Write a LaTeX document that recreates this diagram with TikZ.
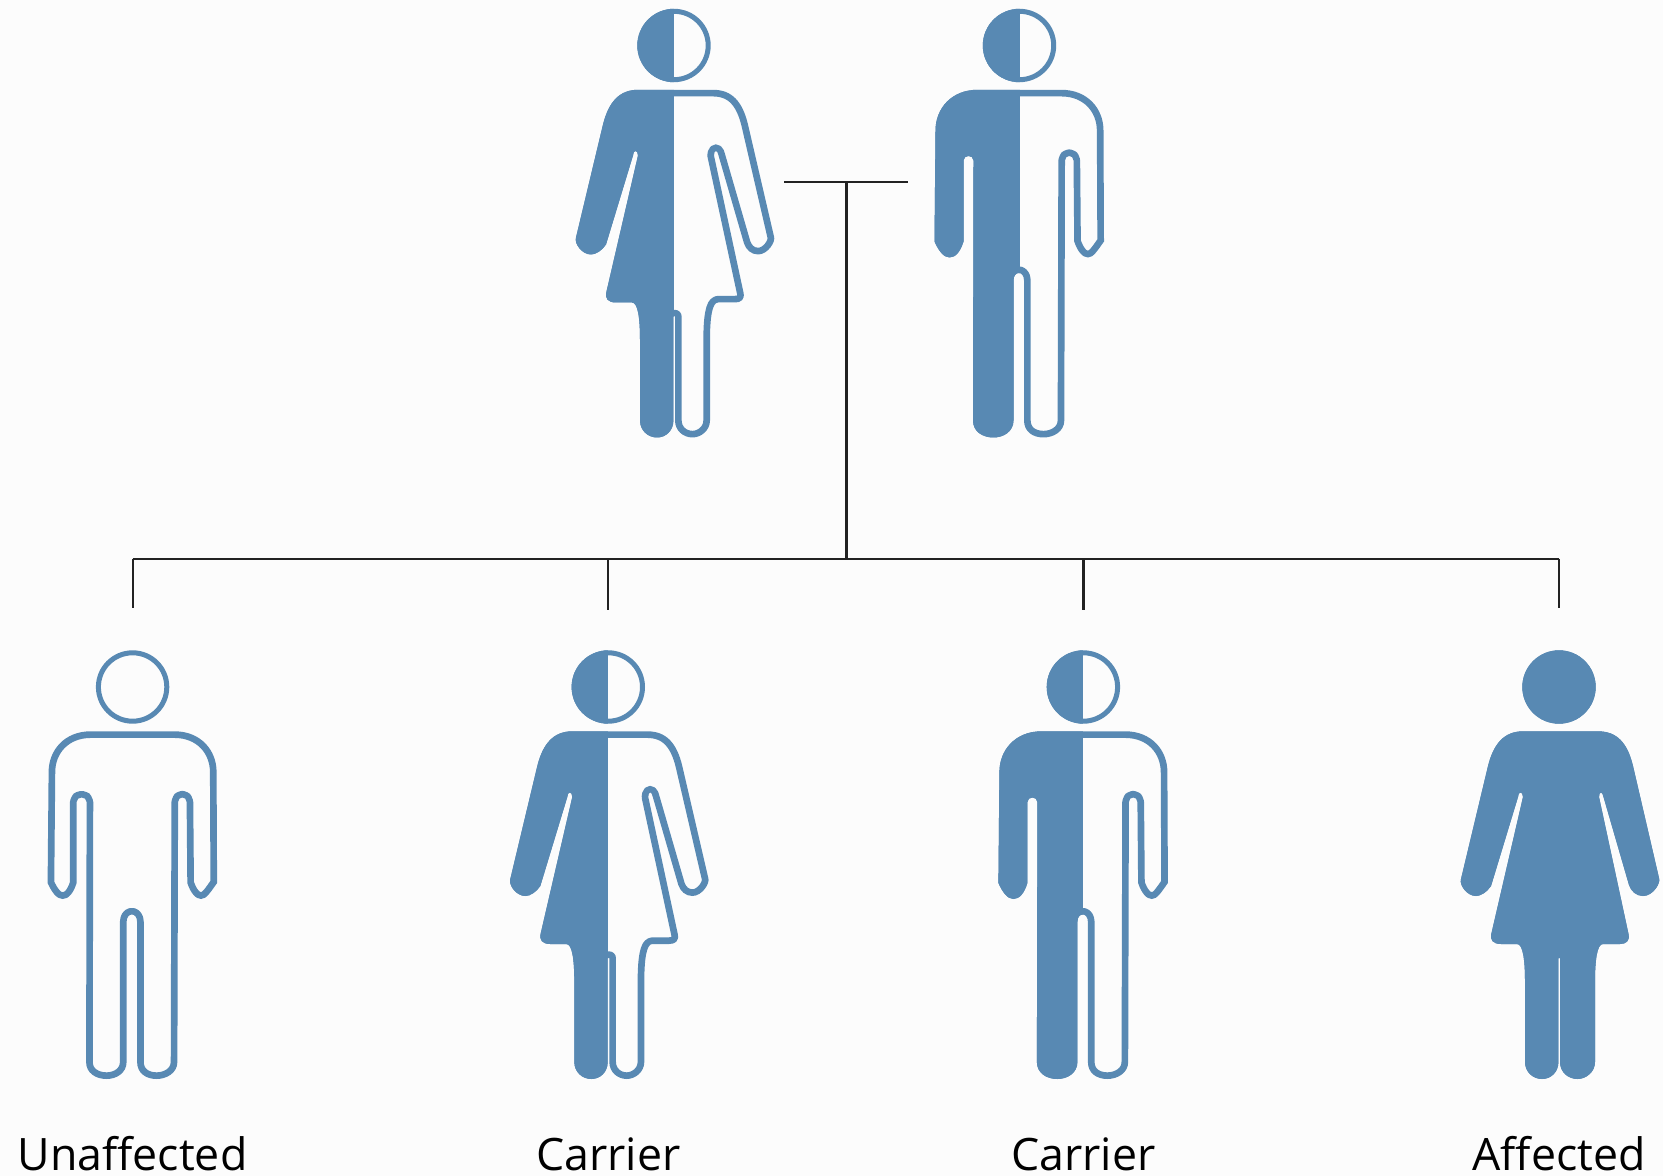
\documentclass[tikz,border=0pt]{standalone}
\usepackage{fontspec}
\setmainfont{Open Sans}
\newcommand{\headpart}{(0,45) circle (36.7)}
\newcommand{\femalebody}{
  (0,89.3) -- (39,89.3) .. controls (58,89.3) and (68.5,101) .. (74,124)
  -- (100,236) .. controls (102,241) and (94,254) .. (84,254) .. controls (77,254) and (72,249) .. (70,243)
  -- (44.5,155) .. controls (43.5,149) and (40,149) .. (40,155)
  -- (69.5,292) .. controls (71,299) and (67,302) .. (61,302) -- (44,302)
  .. controls (38,302) and (36,318) .. (36,340) -- (36,420) .. controls (36,430) and (27,437) .. (18.5,437)
  .. controls (9,437) and (1,430) .. (1,420) -- (1,316) -- (-0.6,316) -- (-0.6,420)
  .. controls (-0.6,430) and (-8,437) .. (-17,437) .. controls (-26,437) and (-34,430) .. (-34,420)
  -- (-34,340) .. controls (-34,318) and (-36,302) .. (-42,302) -- (-58,302)
  .. controls (-66,302) and (-69.5,298) .. (-67.5,291) -- (-36,155) .. controls (-36,149) and (-41,149) .. (-41,155)
  -- (-68,244) .. controls (-72,250) and (-78,254) .. (-83,254) .. controls (-92,254) and (-100,243) .. (-98,237)
  -- (-71,124) .. controls (-65.5,102) and (-55,89.3) .. (-36,89.3) -- cycle}
\newcommand{\malebody}{
  (0,89.3) -- (42,89.3) .. controls (68,89.3) and (84,108) .. (84,130)
  -- (84.5,241) .. controls (78,250) and (74,257) .. (68.5,257) .. controls (63,257) and (58,251) .. (54.7,241)
  -- (54,160) .. controls (54,154) and (45.5,154) .. (45.5,160)
  -- (44.8,420) .. controls (44.8,431) and (34,437) .. (24,437)
  .. controls (13,437) and (4.5,431) .. (4.5,420) -- (4.5,280) .. controls (4.5,270) and (-6,270) .. (-6,280)
  -- (-6,420) .. controls (-6,431) and (-16,437) .. (-26,437)
  .. controls (-37,437) and (-46.5,431) .. (-46.5,420)
  -- (-46,160) .. controls (-46,154) and (-56,154) .. (-56,160)
  -- (-56,241) .. controls (-59,251) and (-64,257) .. (-70,257) .. controls (-76,257) and (-81,250) .. (-85,241)
  -- (-84,130) .. controls (-84,108) and (-68,89.3) .. (-42,89.3) -- cycle}
\definecolor{pageback}{HTML}{FCFCFC}
\definecolor{personblue}{HTML}{5889B3}
\definecolor{lineink}{HTML}{222222}
\tikzset{
  pics/person/.style 2 args={code={
    \begin{scope}
      \clip \headpart \csname #1body\endcsname;
      \fill[personblue] (-130,0) rectangle (#2,450);
      \draw[personblue, line width=7.5pt] \headpart;
      \draw[personblue, line width=10pt, line join=round] \csname #1body\endcsname;
    \end{scope}
  }}
}

\begin{document}
\begin{tikzpicture}[
    x=0.75pt, y=-0.75pt,
    lbl/.style={anchor=base, font=\fontsize{33.5}{36}\selectfont, text=black, inner sep=0pt},
    tie/.style={lineink, line width=1.65pt}
]
\useasboundingbox (0,0) rectangle (1663,1176);
\fill[pageback] (0,0) rectangle (1663,1176);

\pic (mother) at (674,0.5) {person={female}{0}};
\pic (father) at (1019.5,0.5) {person={male}{0}};
\pic (kid1) at (132.6,642) {person={male}{-200}};
\pic (kid2) at (608.3,642) {person={female}{0}};
\pic (kid3) at (1083.4,642) {person={male}{0}};
\pic (kid4) at (1559,642) {person={female}{200}};

\node[lbl] (unaffected) at (132.6,1170) {Unaffected};
\node[lbl] (carrier1) at (608.3,1170) {Carrier};
\node[lbl] (carrier2) at (1083.4,1170) {Carrier};
\node[lbl] (affected) at (1559,1170) {Affected};

\coordinate (tieL) at (784,182);
\coordinate (tieR) at (908,182);
\coordinate (tieM) at (846.4,182);
\coordinate (barM) at (846.4,558.7);
\coordinate (bar1) at (132.6,558.7);
\coordinate (bar2) at (608.3,558.7);
\coordinate (bar3) at (1083.4,558.7);
\coordinate (bar4) at (1559,558.7);
\coordinate (drop1) at (132.6,607.5);
\coordinate (drop2) at (608.3,609.5);
\coordinate (drop3) at (1083.4,609.5);
\coordinate (drop4) at (1559,607.5);

\draw[tie] (tieL) -- (tieR);
\draw[tie] (tieM) -- (barM);
\draw[tie] (bar1) -- (bar4);
\draw[tie] (bar1) -- (drop1);
\draw[tie] (bar2) -- (drop2);
\draw[tie] (bar3) -- (drop3);
\draw[tie] (bar4) -- (drop4);
\end{tikzpicture}
\end{document}
